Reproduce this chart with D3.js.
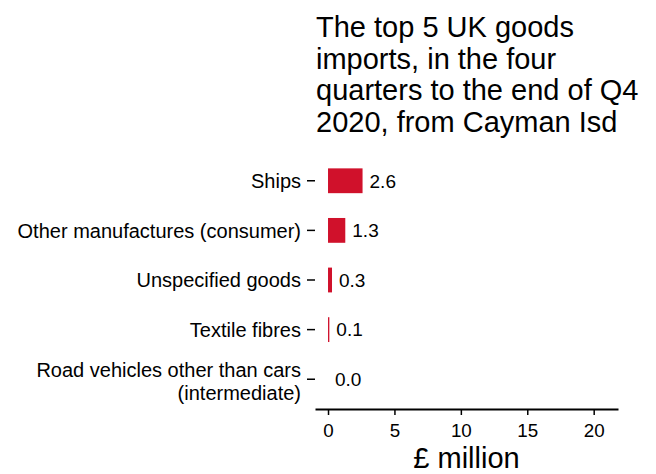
<!DOCTYPE html>
<html>
<head>
<meta charset="utf-8">
<script src="https://cdn.jsdelivr.net/npm/d3@7"></script>
<style>
  body { margin: 0; background: #fff; }
  text { font-family: "Liberation Sans", Arial, sans-serif; fill: #000; }
</style>
</head>
<body>
<div id="chart"></div>
<script>
// data, top to bottom
const categories = [
  "Ships",
  "Other manufactures (consumer)",
  "Unspecified goods",
  "Textile fibres",
  "Road vehicles other than cars\n(intermediate)"
];
const values = [2.6, 1.3, 0.3, 0.1, 0.0];
const xTicks = [0, 5, 10, 15, 20];
const titleLines = [
  "The top 5 UK goods",
  "imports, in the four",
  "quarters to the end of Q4",
  "2020, from Cayman Isd"
];

const width = 656, height = 474;
const margin = { top: 151, right: 38, bottom: 65, left: 315 };

const svg = d3.select("#chart").append("svg")
  .attr("width", width)
  .attr("height", height);

// title
svg.append("text")
  .attr("x", 316)
  .attr("y", 37)
  .style("font-size", "29px")
  .selectAll("tspan")
  .data(titleLines)
  .join("tspan")
  .attr("x", 316)
  .attr("dy", (d, i) => i === 0 ? 0 : 31.7)
  .text(d => d);

// scales
const x = d3.scaleLinear()
  .domain([-0.98, 21.83])
  .range([margin.left, width - margin.right]);

const y = d3.scaleBand()
  .domain(categories)
  .range([margin.top, height - margin.bottom])
  .paddingInner(0.5)
  .paddingOuter(0.35);

// bars
svg.append("g")
  .selectAll("rect")
  .data(values)
  .join("rect")
  .attr("x", x(0))
  .attr("y", (d, i) => y(categories[i]))
  .attr("width", d => x(d) - x(0))
  .attr("height", y.bandwidth())
  .attr("fill", "#D0112B");

// value labels
svg.append("g")
  .selectAll("text")
  .data(values)
  .join("text")
  .attr("x", d => x(d) + 7)
  .attr("y", (d, i) => y(categories[i]) + y.bandwidth() / 2)
  .attr("dy", "0.36em")
  .style("font-size", "19px")
  .text(d => d.toFixed(1));

// y axis: ticks and labels only
const yAxis = svg.append("g")
  .attr("transform", `translate(${margin.left},0)`)
  .call(d3.axisLeft(y).tickSize(8).tickPadding(6).tickFormat(""));
yAxis.select(".domain").remove();
yAxis.selectAll(".tick line").attr("stroke-width", 1.5);

yAxis.selectAll(".tick").each(function (d) {
  const lines = d.split("\n");
  const t = d3.select(this).append("text")
    .attr("x", -14)
    .attr("text-anchor", "end")
    .style("font-size", "20px");
  const shift = lines.length > 1 ? 2 : 0;
  lines.forEach((l, i) => {
    t.append("tspan")
      .attr("x", -14)
      .attr("y", (i - (lines.length - 1) / 2) * 23 + shift)
      .attr("dy", "0.36em")
      .text(l);
  });
});

// x axis
const xAxis = svg.append("g")
  .attr("transform", `translate(0,${height - margin.bottom})`)
  .call(d3.axisBottom(x).tickValues(xTicks).tickSize(6).tickPadding(9).tickSizeOuter(0));
xAxis.select(".domain").attr("stroke-width", 1.8);
xAxis.selectAll(".tick line").attr("stroke-width", 1.5);
xAxis.selectAll(".tick text")
  .style("font-size", "18.8px")
  .attr("font-family", null);

// x axis title
svg.append("text")
  .attr("x", (x.range()[0] + x.range()[1]) / 2)
  .attr("y", 468)
  .attr("text-anchor", "middle")
  .style("font-size", "29px")
  .text("£ million");
</script>
</body>
</html>
